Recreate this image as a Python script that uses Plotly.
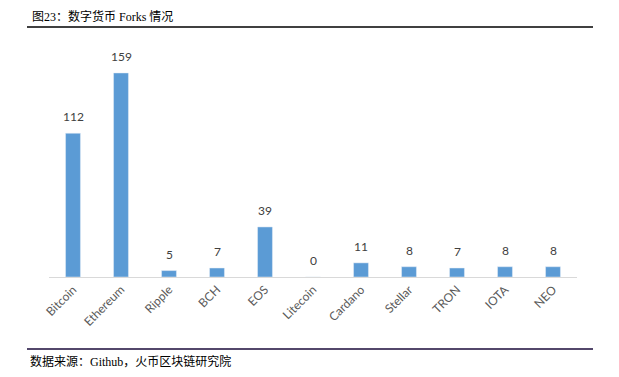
import plotly.graph_objects as go

categories = ["Bitcoin", "Ethereum", "Ripple", "BCH", "EOS", "Litecoin",
              "Cardano", "Stellar", "TRON", "IOTA", "NEO"]
forks = [112, 159, 5, 7, 39, 0, 11, 8, 7, 8, 8]

title_text = "图23：数字货币 Forks 情况"
source_text = "数据来源：Github，火币区块链研究院"

OFF = 8  # page body margin
W, H = 619 - OFF, 377 - OFF
ml, mt = 49 - OFF, 46 - OFF
pw, ph = 528, 231
mr, mb = W - ml - pw, H - mt - ph

def px(x):
    return (x - OFF - ml) / pw

def py(y):
    return (mt + ph - (y - OFF)) / ph

fig = go.Figure(go.Bar(
    x=categories, y=forks,
    marker_color="#5B9BD5",
    width=0.31,
    cliponaxis=False,
))

value_labels = [
    dict(x=c, y=v, xref="x", yref="y", text=str(v), showarrow=False,
         xanchor="center", yanchor="bottom", yshift=7,
         font=dict(size=12, color="#404040", family="Lato, Liberation Sans, sans-serif"))
    for c, v in zip(categories, forks)
]

fig.update_layout(
    width=W, height=H,
    margin=dict(l=ml, r=mr, t=mt, b=mb, autoexpand=False),
    paper_bgcolor="white", plot_bgcolor="white",
    showlegend=False,
    xaxis=dict(
        tickangle=-45,
        automargin=False,
        tickfont=dict(size=12, color="#595959", family="Lato, Liberation Sans, sans-serif"),
        showline=True, linecolor="#D9D9D9", linewidth=1,
        ticks="", showgrid=False,
    ),
    yaxis=dict(range=[0, 180], visible=False, showgrid=False, automargin=False),
    shapes=[
        dict(type="line", xref="paper", yref="paper",
             x0=px(27), x1=px(593), y0=py(27), y1=py(27),
             line=dict(color="black", width=1.5)),
        dict(type="line", xref="paper", yref="paper",
             x0=px(27), x1=px(593), y0=py(349), y1=py(349),
             line=dict(color="#1a0a3a", width=1.5)),
    ],
    annotations=value_labels + [
        dict(text=title_text, xref="paper", yref="paper", x=px(30), y=py(17),
             xanchor="left", yanchor="middle", showarrow=False,
             font=dict(size=12, color="black", family="Liberation Serif, Noto Sans CJK SC, serif")),
        dict(text=source_text, xref="paper", yref="paper", x=px(28), y=py(362),
             xanchor="left", yanchor="middle", showarrow=False,
             font=dict(size=12, color="black", family="Liberation Serif, Noto Sans CJK SC, serif")),
    ],
)

fig.write_html("out.html")
